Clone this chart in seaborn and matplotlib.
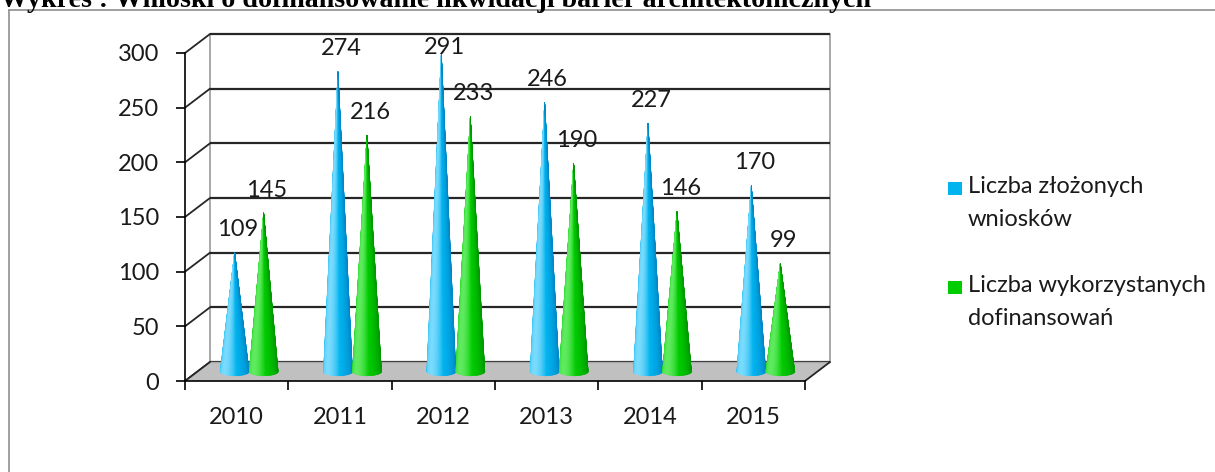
import numpy as np
import matplotlib
matplotlib.use("Agg")
import matplotlib.pyplot as plt
from matplotlib.patches import Polygon, Rectangle
from matplotlib.lines import Line2D
import matplotlib.colors as mcolors
import seaborn as sns

# ---------------- data ----------------
years = ["2010", "2011", "2012", "2013", "2014", "2015"]
zlozone = [109, 274, 291, 246, 227, 170]
wykorzystane = [145, 216, 233, 190, 146, 99]
series_names = ["Liczba złożonych\nwniosków", "Liczba wykorzystanych\ndofinansowań"]
title = "Wykres : Wnioski o dofinansowanie likwidacji barier architektonicznych"
yticks = [0, 50, 100, 150, 200, 250, 300]

# ---------------- style ----------------
sns.set_theme(style="white")
plt.rcParams["font.family"] = ["Lato", "DejaVu Sans"]
palette = sns.color_palette(["#00b4f0", "#00cc00"])
light_cols = ["#8fe2ff", "#70f070"]
dark_cols = ["#0088c8", "#009800"]
FS = 17

W, H = 1215, 472
fig = plt.figure(figsize=(W / 100, H / 100), dpi=100)
fig.patch.set_facecolor("white")

def fx(px):
    return px / W

def fy(py):
    return 1 - py / H

# plot area (front face)
ax = fig.add_axes([fx(185), fy(381), fx(805) - fx(185), fy(53) - fy(381)])
ax.set_xlim(-0.5, 5.5)
ax.set_ylim(0, 300)
ax.set_facecolor("none")

px_x = 620 / 6.0      # pixels per category
px_y = 328 / 300.0    # pixels per value unit
DX = 25 / px_x        # depth offset (x)
DY = 19 / px_y        # depth offset (y)

ink = "#262626"
# back wall gridlines + left diagonals
for v in yticks:
    ax.plot([-0.5 + DX, 5.5 + DX], [v + DY, v + DY], color=ink, lw=1.6,
            clip_on=False, zorder=1, solid_capstyle="butt")
    ax.plot([-0.5, -0.5 + DX], [v, v + DY], color=ink, lw=1.3,
            clip_on=False, zorder=1)
# back wall verticals
for xv in (-0.5 + DX, 5.5 + DX):
    ax.plot([xv, xv], [DY, 300 + DY], color="#9a9a9a", lw=1.2, clip_on=False, zorder=0.9)

# floor
floor = Polygon([(-0.5, 0), (5.5, 0), (5.5 + DX, DY), (-0.5 + DX, DY)],
                closed=True, facecolor="#c0c0c0", edgecolor="none", zorder=2, clip_on=False)
ax.add_patch(floor)
ax.plot([-0.5 + DX, 5.5 + DX], [DY, DY], color="#a8a8a8", lw=1.0, clip_on=False, zorder=2.1)
ax.plot([5.5, 5.5 + DX], [0, DY], color=ink, lw=1.3, clip_on=False, zorder=2.2)
ax.plot([-0.5, -0.5 + DX], [0, DY], color=ink, lw=1.3, clip_on=False, zorder=2.2)


def blend(c1, c2, t):
    a = np.array(mcolors.to_rgb(c1))
    b = np.array(mcolors.to_rgb(c2))
    return tuple(a + (b - a) * t)


def draw_cone(cx, by, ay, r, h, mid, light, dark, n=60):
    th = np.linspace(np.pi, 2 * np.pi, n + 1)
    xs = cx + r * np.cos(th)
    ys = by + h * np.sin(th)
    L = np.array([-0.7, 0.72])
    L = L / np.linalg.norm(L)
    for k in range(n):
        t = 0.5 * (th[k] + th[k + 1])
        nrm = np.array([np.cos(t), -np.sin(t)])
        I = float(nrm @ L)
        if I >= 0.6:
            c = blend(mid, light, min(1.0, (I - 0.6) / 0.4) * 0.85)
        else:
            c = blend(mid, dark, min(1.0, (0.6 - I) / 1.3))
        poly = Polygon([(cx, ay), (xs[k], ys[k]), (xs[k + 1], ys[k + 1])], closed=True,
                       facecolor=c, edgecolor=c, lw=0.4, zorder=3, clip_on=False)
        ax.add_patch(poly)


R = 14.5 / px_x
Hh = 4.3 / px_y
label_max = 305
for i in range(len(years)):
    for s, vals in enumerate([zlozone, wykorzystane]):
        v = vals[i]
        cx = i + DX / 2 + (-R if s == 0 else R)
        draw_cone(cx, DY / 2, v + DY / 2, R, Hh, palette[s], light_cols[s], dark_cols[s])
        ly = min(v + DY / 2 + 21, label_max)
        ax.text(cx + 0.03, ly, str(v), ha="center", va="center", fontsize=FS,
                color="#1a1a1a", zorder=5, clip_on=False)

# axes / ticks
for sp in ("top", "right"):
    ax.spines[sp].set_visible(False)
for sp in ("left", "bottom"):
    ax.spines[sp].set_color("black")
    ax.spines[sp].set_linewidth(1.2)
    ax.spines[sp].set_zorder(6)
ax.set_yticks(yticks)
ax.set_yticklabels([str(v) for v in yticks])
ax.tick_params(axis="y", length=6.5, width=1.2, pad=12, labelsize=FS, colors="black",
               labelcolor="#1a1a1a", left=True)
ax.set_xticks(range(len(years)))
ax.set_xticklabels(years)
ax.set_xticks(np.arange(-0.5, 6.0, 1.0), minor=True)
ax.tick_params(axis="x", which="major", length=0, pad=19, labelsize=FS, labelcolor="#1a1a1a")
ax.tick_params(axis="x", which="minor", length=6.5, width=1.2, colors="black", bottom=True)
ax.grid(False)

# legend (manual, square aligned with first line)
leg_y = [188, 287]
for s in range(2):
    fig.patches.append(Rectangle((fx(948), fy(leg_y[s] + 6.5)), 14 / W, 13 / H,
                                 transform=fig.transFigure, facecolor=palette[s],
                                 edgecolor="none"))
    fig.text(fx(968), fy(leg_y[s] - 12), series_names[s], ha="left", va="top",
             fontsize=FS, color="#1a1a1a", linespacing=1.72)

# outer frame
fig.lines.append(Line2D([fx(8.5), fx(8.5)], [fy(10), 0], transform=fig.transFigure,
                        color="#8f8f8f", lw=1.2))
fig.lines.append(Line2D([fx(8.5), 1], [fy(10), fy(10)], transform=fig.transFigure,
                        color="#8f8f8f", lw=1.2))

# title (clipped by the top edge, as in the source)
t = fig.text(0.0, fy(7), title, ha="left", va="baseline", fontsize=18,
             fontweight="bold", family=["Liberation Serif", "DejaVu Serif"], color="black")
fig.canvas.draw()
wpx = t.get_window_extent().width
t.set_fontsize(18 * 868 / wpx)

fig.savefig("out.png", dpi=100)
